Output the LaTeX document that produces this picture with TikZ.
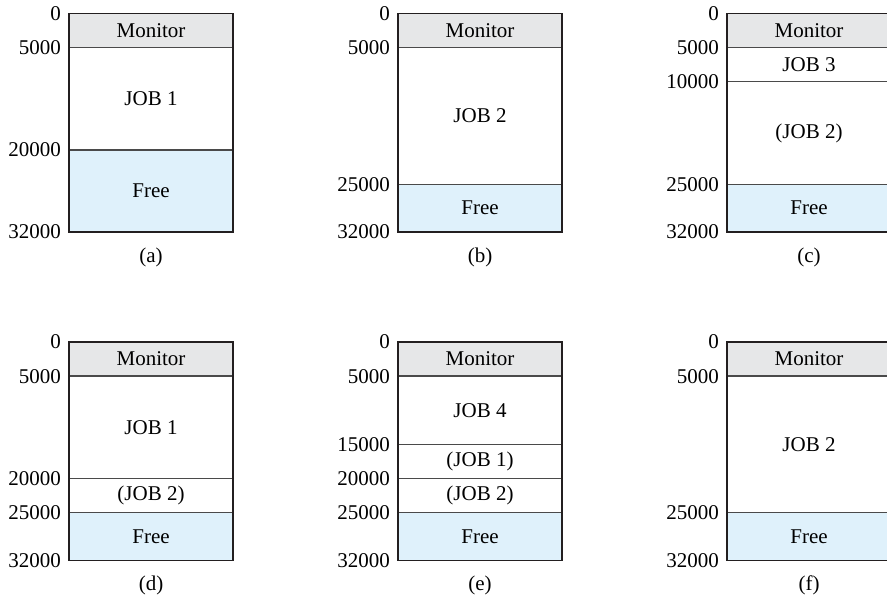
\documentclass[tikz,border=0pt]{standalone}
\usepackage{fontspec}
\setmainfont{Liberation Serif}
\definecolor{mongray}{HTML}{E6E7E8}
\definecolor{freeblue}{HTML}{DFF1FB}
\definecolor{divline}{HTML}{4A4A4A}
\definecolor{frameclr}{HTML}{231F20}
\tikzset{
  monfill/.style={fill=mongray},
  freefill/.style={fill=freeblue},
  divider/.style={draw=divline, line width=1.3pt},
  memframe/.style={draw=frameclr, line width=1.7pt},
  addr/.style={anchor=east, inner sep=0pt},
  lbl/.style={inner sep=0pt},
}
\begin{document}
\begin{tikzpicture}[x=1pt,y=-1pt, font=\fontsize{21}{25}\selectfont]
\clip (0,0) rectangle (887,598);
% ---------- (a)
\begin{scope}[shift={(69,13.5)}, y=-6.828pt]
\fill[monfill] (0,0) rectangle (164,5);
\fill[freefill] (0,20) rectangle (164,32);
\draw[divider] (0,5) -- (164,5) (0,20) -- (164,20);
\draw[memframe] (0,0) rectangle (164,32);
\node[lbl] (a-mon) at (82,2.5) {Monitor};
\node[lbl] (a-j1) at (82,12.5) {JOB 1};
\node[lbl] (a-free) at (82,26) {Free};
\node[addr] (a-0) at (-8,0) {0};
\node[addr] (a-5) at (-8,5) {5000};
\node[addr] (a-20) at (-8,20) {20000};
\node[addr] (a-32) at (-8,32) {32000};
\node[lbl] (a-cap) at (82,35.66) {(a)};
\end{scope}
% ---------- (b)
\begin{scope}[shift={(398,13.5)}, y=-6.828pt]
\fill[monfill] (0,0) rectangle (164,5);
\fill[freefill] (0,25) rectangle (164,32);
\draw[divider] (0,5) -- (164,5) (0,25) -- (164,25);
\draw[memframe] (0,0) rectangle (164,32);
\node[lbl] (b-mon) at (82,2.5) {Monitor};
\node[lbl] (b-j2) at (82,15) {JOB 2};
\node[lbl] (b-free) at (82,28.5) {Free};
\node[addr] (b-0) at (-8,0) {0};
\node[addr] (b-5) at (-8,5) {5000};
\node[addr] (b-25) at (-8,25) {25000};
\node[addr] (b-32) at (-8,32) {32000};
\node[lbl] (b-cap) at (82,35.66) {(b)};
\end{scope}
% ---------- (c)
\begin{scope}[shift={(727,13.5)}, y=-6.828pt]
\fill[monfill] (0,0) rectangle (164,5);
\fill[freefill] (0,25) rectangle (164,32);
\draw[divider] (0,5) -- (164,5) (0,10) -- (164,10) (0,25) -- (164,25);
\draw[memframe] (0,0) rectangle (164,32);
\node[lbl] (c-mon) at (82,2.5) {Monitor};
\node[lbl] (c-j3) at (82,7.5) {JOB 3};
\node[lbl] (c-j2) at (82,17.5) {(JOB 2)};
\node[lbl] (c-free) at (82,28.5) {Free};
\node[addr] (c-0) at (-8,0) {0};
\node[addr] (c-5) at (-8,5) {5000};
\node[addr] (c-10) at (-8,10) {10000};
\node[addr] (c-25) at (-8,25) {25000};
\node[addr] (c-32) at (-8,32) {32000};
\node[lbl] (c-cap) at (82,35.66) {(c)};
\end{scope}
% ---------- (d)
\begin{scope}[shift={(69,342)}, y=-6.828pt]
\fill[monfill] (0,0) rectangle (164,5);
\fill[freefill] (0,25) rectangle (164,32);
\draw[divider] (0,5) -- (164,5) (0,20) -- (164,20) (0,25) -- (164,25);
\draw[memframe] (0,0) rectangle (164,32);
\node[lbl] (d-mon) at (82,2.5) {Monitor};
\node[lbl] (d-j1) at (82,12.5) {JOB 1};
\node[lbl] (d-j2) at (82,22.5) {(JOB 2)};
\node[lbl] (d-free) at (82,28.5) {Free};
\node[addr] (d-0) at (-8,0) {0};
\node[addr] (d-5) at (-8,5) {5000};
\node[addr] (d-20) at (-8,20) {20000};
\node[addr] (d-25) at (-8,25) {25000};
\node[addr] (d-32) at (-8,32) {32000};
\node[lbl] (d-cap) at (82,35.66) {(d)};
\end{scope}
% ---------- (e)
\begin{scope}[shift={(398,342)}, y=-6.828pt]
\fill[monfill] (0,0) rectangle (164,5);
\fill[freefill] (0,25) rectangle (164,32);
\draw[divider] (0,5) -- (164,5) (0,15) -- (164,15) (0,20) -- (164,20) (0,25) -- (164,25);
\draw[memframe] (0,0) rectangle (164,32);
\node[lbl] (e-mon) at (82,2.5) {Monitor};
\node[lbl] (e-j4) at (82,10) {JOB 4};
\node[lbl] (e-j1) at (82,17.5) {(JOB 1)};
\node[lbl] (e-j2) at (82,22.5) {(JOB 2)};
\node[lbl] (e-free) at (82,28.5) {Free};
\node[addr] (e-0) at (-8,0) {0};
\node[addr] (e-5) at (-8,5) {5000};
\node[addr] (e-15) at (-8,15) {15000};
\node[addr] (e-20) at (-8,20) {20000};
\node[addr] (e-25) at (-8,25) {25000};
\node[addr] (e-32) at (-8,32) {32000};
\node[lbl] (e-cap) at (82,35.66) {(e)};
\end{scope}
% ---------- (f)
\begin{scope}[shift={(727,342)}, y=-6.828pt]
\fill[monfill] (0,0) rectangle (164,5);
\fill[freefill] (0,25) rectangle (164,32);
\draw[divider] (0,5) -- (164,5) (0,25) -- (164,25);
\draw[memframe] (0,0) rectangle (164,32);
\node[lbl] (f-mon) at (82,2.5) {Monitor};
\node[lbl] (f-j2) at (82,15) {JOB 2};
\node[lbl] (f-free) at (82,28.5) {Free};
\node[addr] (f-0) at (-8,0) {0};
\node[addr] (f-5) at (-8,5) {5000};
\node[addr] (f-25) at (-8,25) {25000};
\node[addr] (f-32) at (-8,32) {32000};
\node[lbl] (f-cap) at (82,35.66) {(f)};
\end{scope}
\end{tikzpicture}
\end{document}
